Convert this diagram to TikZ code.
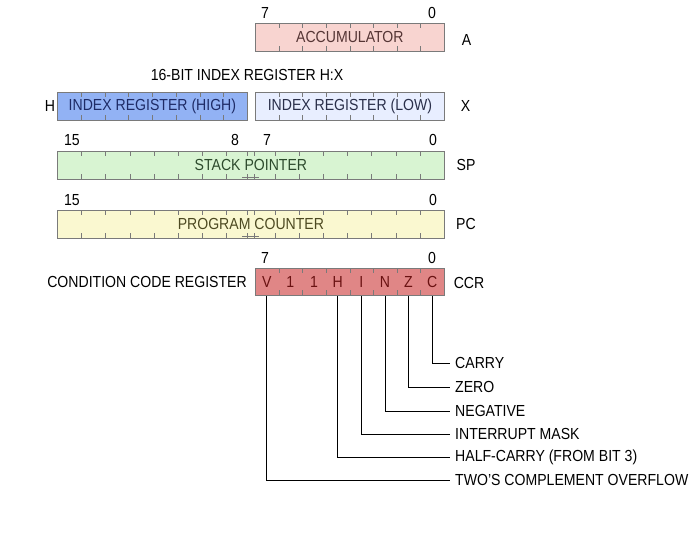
\documentclass[tikz,border=0pt]{standalone}
\usepackage{fontspec}
\setmainfont{Liberation Sans}[FakeStretch=0.88]
\usetikzlibrary{calc}
\definecolor{bordergray}{HTML}{7A7A7A}
\definecolor{accfill}{HTML}{F8D4D0}
\definecolor{acctext}{HTML}{553535}
\definecolor{hifill}{HTML}{92B2F4}
\definecolor{hitext}{HTML}{1E2B66}
\definecolor{lofill}{HTML}{E8EEFF}
\definecolor{lotext}{HTML}{2A2F4A}
\definecolor{spfill}{HTML}{D8F4D2}
\definecolor{sptext}{HTML}{2D4A2D}
\definecolor{pcfill}{HTML}{FAF8D0}
\definecolor{pctext}{HTML}{4D4A22}
\definecolor{ccrfill}{HTML}{E08686}
\definecolor{ccrtext}{HTML}{6A1212}
\begin{document}
\begin{tikzpicture}[x=1pt,y=-1pt,
  font=\fontsize{16}{19}\selectfont,
  reg/.style={draw=bordergray, line width=0.8pt, minimum height=28pt,
    inner sep=0pt, anchor=north west},
  tickline/.style={bordergray, line width=0.8pt},
  cells/.style={path picture={
    \pgfmathtruncatemacro\nm{#1-1}
    \foreach \i in {1,...,\nm}{
      \draw[tickline]
        ($(path picture bounding box.north west)!\i/#1!(path picture bounding box.north east)$) -- ++(0,5);
      \draw[tickline]
        ($(path picture bounding box.south west)!\i/#1!(path picture bounding box.south east)$) -- ++(0,-5);
    }}},
  wordcells/.style={path picture={
    \foreach \i in {1,...,7,9,10,...,15}{
      \draw[tickline]
        ($(path picture bounding box.north west)!\i/16!(path picture bounding box.north east)$) -- ++(0,5);
      \draw[tickline]
        ($(path picture bounding box.south west)!\i/16!(path picture bounding box.south east)$) -- ++(0,-5);
    }
    \foreach \d in {-3.5,3.5}{
      \draw[tickline] ($(path picture bounding box.north)+(\d,0)$) -- ++(0,5);
      \draw[tickline] ($(path picture bounding box.south)+(\d,0)$) -- ++(0,-5);
    }
    \draw[tickline] ($(path picture bounding box.south)+(-8.5,-2)$) -- ++(17,0);
    }},
  lbl/.style={inner sep=1pt},
  ccrbit/.style={inner sep=0pt, text=ccrtext},
  leader/.style={draw=black, line width=0.8pt},
  flag/.style={anchor=west, inner xsep=5pt, inner ysep=1pt}]
\useasboundingbox (0,0) rectangle (699,552);

% Accumulator
\node[reg, cells=8, fill=accfill, text=acctext, minimum width=189pt] (acc) at (255,23) {ACCUMULATOR};
\node[lbl] (acc7) at (265,12.5) {7};
\node[lbl] (acc0) at (432,12.5) {0};
\node[lbl] (accA) at (466.5,40) {A};

% Index register
\node[lbl] (hxtitle) at (247,75) {16-BIT INDEX REGISTER H:X};
\node[reg, cells=8, fill=hifill, text=hitext, minimum width=190pt] (hreg) at (57,92) {INDEX REGISTER (HIGH)};
\node[reg, cells=8, fill=lofill, text=lotext, minimum width=189pt] (xreg) at (255,92) {INDEX REGISTER (LOW)};
\node[lbl] (hlab) at (50,106) {H};
\node[lbl] (xlab) at (465.5,106) {X};

% Stack pointer
\node[reg, wordcells, fill=spfill, text=sptext, minimum width=387pt] (sp) at (57,151) {STACK POINTER};
\node[lbl] (sp15) at (72,140) {15};
\node[lbl] (sp8) at (235,140) {8};
\node[lbl] (sp7) at (267,140) {7};
\node[lbl] (sp0) at (433,140) {0};
\node[lbl] (splab) at (466,165) {SP};

% Program counter
\node[reg, wordcells, fill=pcfill, text=pctext, minimum width=387pt] (pc) at (57,210) {PROGRAM COUNTER};
\node[lbl] (pc15) at (72,200) {15};
\node[lbl] (pc0) at (433,200) {0};
\node[lbl] (pclab) at (466,224) {PC};

% Condition code register
\node[reg, cells=8, fill=ccrfill, minimum width=189pt, minimum height=27pt] (ccr) at (255,268) {};
\node[lbl] (ccr7) at (265,258) {7};
\node[lbl] (ccr0) at (432,258) {0};
\node[lbl, anchor=east] (ccrname) at (248,282) {CONDITION CODE REGISTER};
\node[lbl] (ccrlab) at (469,283) {CCR};
\node[ccrbit] (bV) at (266.8,282) {V};
\node[ccrbit] (b6) at (290.4,282) {1};
\node[ccrbit] (b5) at (314.0,282) {1};
\node[ccrbit] (bH) at (337.6,282) {H};
\node[ccrbit] (bI) at (361.3,282) {I};
\node[ccrbit] (bN) at (384.9,282) {N};
\node[ccrbit] (bZ) at (408.5,282) {Z};
\node[ccrbit] (bC) at (432.1,282) {C};

% Flag labels
\node[flag] (fC) at (450,363) {CARRY};
\node[flag] (fZ) at (450,387) {ZERO};
\node[flag] (fN) at (450,411) {NEGATIVE};
\node[flag] (fI) at (450,434) {INTERRUPT MASK};
\node[flag] (fH) at (450,457) {HALF-CARRY (FROM BIT 3)};
\node[flag] (fV) at (450,480) {TWO'S COMPLEMENT OVERFLOW};

\draw[leader] (bC |- ccr.south) |- (fC.west);
\draw[leader] (bZ |- ccr.south) |- (fZ.west);
\draw[leader] (bN |- ccr.south) |- (fN.west);
\draw[leader] (bI |- ccr.south) |- (fI.west);
\draw[leader] (bH |- ccr.south) |- (fH.west);
\draw[leader] (bV |- ccr.south) |- (fV.west);
\end{tikzpicture}
\end{document}
